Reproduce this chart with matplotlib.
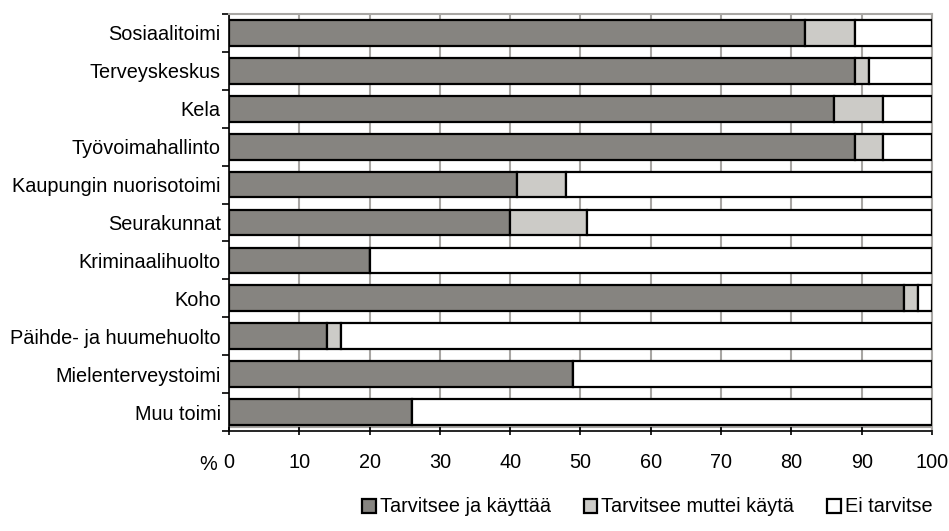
import matplotlib
matplotlib.use("Agg")
from matplotlib import pyplot as plt
import numpy as np

plt.rcParams['font.family'] = ['Liberation Sans', 'DejaVu Sans']

palvelut = ["Sosiaalitoimi", "Terveyskeskus", "Kela", "Työvoimahallinto",
            "Kaupungin nuorisotoimi", "Seurakunnat", "Kriminaalihuolto", "Koho",
            "Päihde- ja huumehuolto", "Mielenterveystoimi", "Muu toimi"]
kayttaa = [82, 89, 86, 89, 41, 40, 20, 96, 14, 49, 26]
ei_kayta = [7, 2, 7, 4, 7, 11, 0, 2, 2, 0, 0]
sarjat = ["Tarvitsee ja käyttää", "Tarvitsee muttei käytä", "Ei tarvitse"]
xticks = [0, 10, 20, 30, 40, 50, 60, 70, 80, 90, 100]

kayttaa = np.array(kayttaa)
ei_kayta = np.array(ei_kayta)
ei_tarvitse = 100 - kayttaa - ei_kayta

fs = 14.3

fig = plt.figure(figsize=(9.49, 5.31), dpi=100)
ax = fig.add_axes([0.2413, 0.1883, 0.7407, 0.7853])

y = np.arange(len(palvelut))
h = 0.68
ax.barh(y, kayttaa, height=h, color='#868480', edgecolor='black', linewidth=1.6,
        label=sarjat[0], zorder=3)
ax.barh(y, ei_kayta, left=kayttaa, height=h, color='#cccbc7', edgecolor='black',
        linewidth=1.6, label=sarjat[1], zorder=3)
ax.barh(y, ei_tarvitse, left=kayttaa + ei_kayta, height=h, color='white',
        edgecolor='black', linewidth=1.6, label=sarjat[2], zorder=3)

ax.set_xlim(0, 100)
ax.set_ylim(len(palvelut) - 0.5, -0.5)
ax.set_xticks(xticks)
ax.set_xticklabels([str(t) for t in xticks], fontsize=fs)
ax.xaxis.grid(True, color='#a8a6a3', linewidth=1.5, zorder=0)
# gray plot-area border just above the black x axis
ax.axhline(len(palvelut) - 0.6, color='#a8a6a3', linewidth=1.5, zorder=1)

# category labels centred, tick marks between categories
ax.set_yticks(y)
ax.set_yticklabels(palvelut, fontsize=fs)
ax.tick_params(axis='y', length=0, pad=6)
ax.set_yticks(np.arange(-0.5, len(palvelut), 1), minor=True)
ax.tick_params(axis='y', which='minor', length=5, width=1.2, direction='out')
ax.tick_params(axis='x', length=6, width=1.2, direction='inout', pad=13)

for s in ['top', 'right']:
    ax.spines[s].set_color('#a8a6a3')
    ax.spines[s].set_linewidth(1.5)
for s in ['left', 'bottom']:
    ax.spines[s].set_color('black')
    ax.spines[s].set_linewidth(1.2)

fig.text(208 / 949, 1 - 464 / 531, "%", fontsize=fs, ha='center', va='center')

fig.legend(loc='center', bbox_to_anchor=(0.682, 1 - 507 / 531), ncol=3,
           frameon=False, fontsize=fs, handlelength=0.7, handleheight=0.7,
           handletextpad=0.2, columnspacing=1.65)

fig.savefig('out.png', dpi=100)
